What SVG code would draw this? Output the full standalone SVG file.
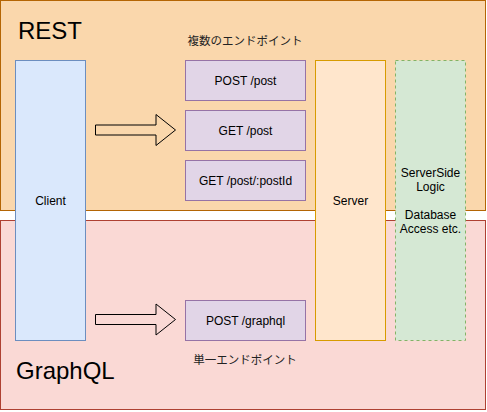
<svg xmlns="http://www.w3.org/2000/svg" width="487" height="412" viewBox="0 0 487 412">
<style>
text{font-family:"Liberation Sans",Arial,"Noto Sans CJK JP",sans-serif;fill:#000}
.lbl{font-size:12px;text-anchor:middle}
.big{font-size:24px}
.jp{font-family:"Noto Sans CJK JP","Liberation Sans",sans-serif;font-size:11.5px;text-anchor:middle;fill:#222}
.ep{fill:#e1d5e7;stroke:#9673a6}
.arrow{fill:none;stroke:#000;stroke-width:1}
</style>
<rect x="0" y="0" width="487" height="412" fill="#fff"/>
<g id="rest">
<rect x="0.5" y="0.5" width="485" height="210" fill="#fad7ac" stroke="#b46504"/>
<text class="big" x="18" y="39">REST</text>
</g>
<g id="graphql">
<rect x="0.5" y="220.5" width="485" height="189" fill="#fad9d5" stroke="#ae4132"/>
<text class="big" x="16" y="379">GraphQL</text>
</g>
<g id="client">
<rect x="15.5" y="60.5" width="70" height="280" fill="#dae8fc" stroke="#6c8ebf"/>
<text class="lbl" x="50.5" y="204.5">Client</text>
</g>
<g id="server">
<rect x="315.5" y="60.5" width="70" height="280" fill="#ffe6cc" stroke="#d79b00"/>
<text class="lbl" x="350.5" y="204.5">Server</text>
</g>
<g id="serverside">
<rect x="395.5" y="60.5" width="70" height="280" fill="#d5e8d4" stroke="#82b366" stroke-dasharray="3,3"/>
<text class="lbl" x="430.5" y="176.5">ServerSide</text>
<text class="lbl" x="430.5" y="190.5">Logic</text>
<text class="lbl" x="430.5" y="218.5">Database</text>
<text class="lbl" x="430.5" y="232.5">Access etc.</text>
</g>
<g id="ep-post">
<rect class="ep" x="185.5" y="60.5" width="120" height="40"/>
<text class="lbl" x="245.5" y="84.5">POST /post</text>
</g>
<g id="ep-get">
<rect class="ep" x="185.5" y="110.5" width="120" height="40"/>
<text class="lbl" x="245.5" y="134.5">GET /post</text>
</g>
<g id="ep-getid">
<rect class="ep" x="185.5" y="160.5" width="120" height="40"/>
<text class="lbl" x="245.5" y="184.5">GET /post/:postId</text>
</g>
<g id="ep-graphql">
<rect class="ep" x="185.5" y="300.5" width="120" height="40"/>
<text class="lbl" x="245.5" y="324.5">POST /graphql</text>
</g>
<g id="label-multi">
<text class="jp" x="245" y="45">複数のエンドポイント</text>
</g>
<g id="label-single">
<text class="jp" x="245" y="364">単一エンドポイント</text>
</g>
<g id="connectors">
<path class="arrow" d="M95.5,125 L156,125 L156,114.5 L175.5,130 L156,145.5 L156,135 L95.5,135 Z"/>
<path class="arrow" d="M95.5,314.5 L156,314.5 L156,304 L175.5,319.5 L156,335 L156,324.5 L95.5,324.5 Z"/>
</g>
</svg>
